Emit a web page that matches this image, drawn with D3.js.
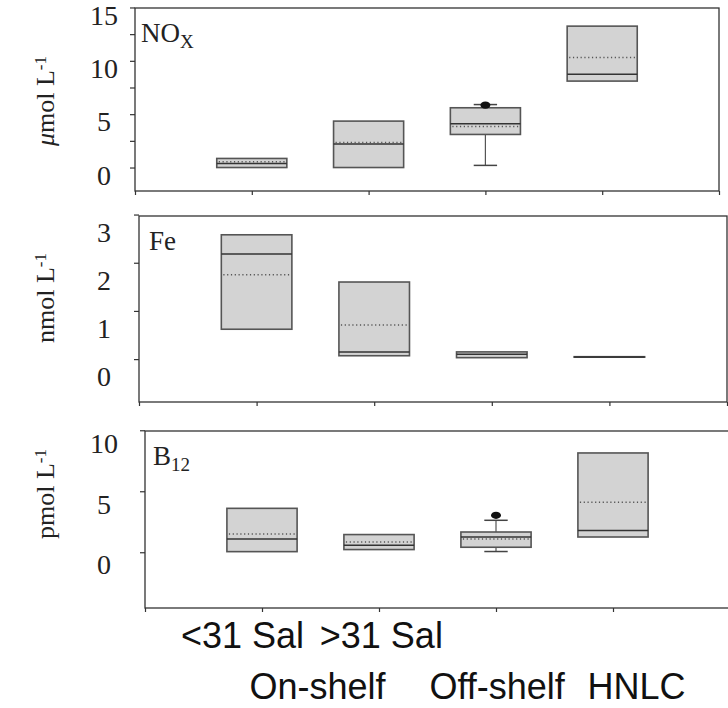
<!DOCTYPE html>
<html>
<head>
<meta charset="utf-8">
<script src="https://cdn.jsdelivr.net/npm/d3@7"></script>
<style>
  body { margin: 0; background: #fff; }
  svg { display: block; }
</style>
</head>
<body>
<div id="chart"></div>
<script>
// groups along x (positions 1..4)
var groups = [1, 2, 3, 4];
var row1Labels = ["<31 Sal", ">31 Sal"];
var row2Labels = ["On-shelf", "Off-shelf", "HNLC"];

// NOx (umol/L)
var noxQ1   = [0,    0,    3.1,  8.1];
var noxMed  = [0.38, 2.2,  4.1,  8.75];
var noxMean = [0.53, 2.35, 3.85, 10.3];
var noxQ3   = [0.85, 4.35, 5.6,  13.25];
var noxLo   = [null, null, 0.2,  null];
var noxHi   = [null, null, 5.9,  null];
var noxOut  = [null, null, 5.85, null];
var noxTicks  = [0, 2.5, 5, 7.5, 10, 12.5, 15];
var noxLabels = [0, 5, 10, 15];

// Fe (nmol/L)
var feQ1   = [0.62, 0.07, 0.03, 0.04];
var feMed  = [2.18, 0.15, 0.10, 0.045];
var feMean = [1.75, 0.71, null, null];
var feQ3   = [2.58, 1.60, 0.15, 0.05];
var feTicks  = [0, 1, 2, 3];
var feLabels = [0, 1, 2, 3];

// B12 (pmol/L)
var b12Q1   = [0.05, 0.22, 0.41, 1.25];
var b12Med  = [1.09, 0.57, 1.25, 1.78];
var b12Mean = [1.5,  0.84, 1.09, 4.1];
var b12Q3   = [3.6,  1.45, 1.66, 8.14];
var b12Lo   = [null, null, 0.06, null];
var b12Hi   = [null, null, 2.62, null];
var b12Out  = [null, null, 3.03, null];
var b12Ticks  = [0, 5, 10];
var b12Labels = [0, 5, 10];

var w = 728, h = 708;
var svg = d3.select("#chart").append("svg")
    .attr("width", w)
    .attr("height", h);

var serif = "'Liberation Serif', 'Times New Roman', serif";

function panel(p) {
    var x = d3.scaleLinear().domain([0, 5]).range([p.left, p.right]);
    var y = d3.scaleLinear().domain(p.ydom).range([p.bottom, p.top]);
    var g = svg.append("g");

    // frame
    g.append("rect")
        .attr("x", p.left).attr("y", p.top)
        .attr("width", p.right - p.left).attr("height", p.bottom - p.top)
        .attr("fill", "none").attr("stroke", "#333").attr("stroke-width", 1.3);

    // left ticks
    var ya = d3.axisLeft(y).tickValues(p.ticks).tickSize(5).tickSizeOuter(0).tickFormat("");
    var gy = g.append("g").attr("transform", "translate(" + p.left + ",0)").call(ya);
    gy.select(".domain").remove();
    gy.selectAll("line").attr("stroke", "#333").attr("stroke-width", 1.2);

    // bottom ticks
    var xa = d3.axisBottom(x).tickValues([0, 1, 2, 3, 4, 5]).tickSize(4).tickSizeOuter(0).tickFormat("");
    var gx = g.append("g").attr("transform", "translate(0," + p.bottom + ")").call(xa);
    gx.select(".domain").remove();
    gx.selectAll("line").attr("stroke", "#333").attr("stroke-width", 1.2);

    // tick labels (they sit a bit below their ticks in the original)
    g.selectAll(".ylab").data(p.labels).enter().append("text")
        .attr("x", 104)
        .attr("y", function(d) { return y(d) + p.labShift; })
        .attr("dy", "0.33em")
        .attr("text-anchor", "middle")
        .style("font-family", serif).style("font-size", "28px").attr("fill", "#222")
        .text(function(d) { return d; });

    // axis title
    var t = g.append("text")
        .attr("transform", "translate(" + p.titleX + "," + p.titleY + ") rotate(-90)")
        .attr("text-anchor", "middle")
        .style("font-family", serif).style("font-size", "26px").attr("fill", "#222");
    if (p.unit == "μ") {
        t.append("tspan").style("font-style", "italic").text("μ");
        t.append("tspan").text("mol L");
    } else {
        t.append("tspan").text(p.unit + "mol L");
    }
    t.append("tspan").attr("dy", "-0.45em").style("font-size", "17px").text("-1");

    // panel label
    var nl = g.append("text")
        .attr("x", p.nameX).attr("y", p.nameY)
        .style("font-family", serif).style("font-size", "27px").attr("fill", "#222");
    nl.append("tspan").text(p.name);
    if (p.sub) nl.append("tspan").attr("dy", "0.3em").style("font-size", "19px").text(p.sub);

    var bw = 0.6, cw = 0.2;
    groups.forEach(function(c, i) {
        var x0 = x(c - bw / 2), x1 = x(c + bw / 2);
        // whisker
        if (p.lo[i] != null) {
            g.append("line").attr("x1", x(c)).attr("x2", x(c))
                .attr("y1", y(p.q1[i])).attr("y2", y(p.lo[i]))
                .attr("stroke", "#555").attr("stroke-width", 1.2);
            g.append("line").attr("x1", x(c - cw / 2)).attr("x2", x(c + cw / 2))
                .attr("y1", y(p.lo[i])).attr("y2", y(p.lo[i]))
                .attr("stroke", "#444").attr("stroke-width", 1.5);
        }
        if (p.hi[i] != null) {
            g.append("line").attr("x1", x(c)).attr("x2", x(c))
                .attr("y1", y(p.q3[i])).attr("y2", y(p.hi[i]))
                .attr("stroke", "#555").attr("stroke-width", 1.2);
            g.append("line").attr("x1", x(c - cw / 2)).attr("x2", x(c + cw / 2))
                .attr("y1", y(p.hi[i])).attr("y2", y(p.hi[i]))
                .attr("stroke", "#444").attr("stroke-width", 1.5);
        }
        // box
        g.append("rect")
            .attr("x", x0).attr("y", y(p.q3[i]))
            .attr("width", x1 - x0).attr("height", Math.max(0.5, y(p.q1[i]) - y(p.q3[i])))
            .attr("fill", "#d3d3d3").attr("stroke", "#555").attr("stroke-width", 1.6);
        // median
        g.append("line").attr("x1", x0).attr("x2", x1)
            .attr("y1", y(p.med[i])).attr("y2", y(p.med[i]))
            .attr("stroke", "#333").attr("stroke-width", 1.5);
        // mean (dotted)
        if (p.mean[i] != null) {
            g.append("line").attr("x1", x0 + 2).attr("x2", x1 - 2)
                .attr("y1", y(p.mean[i])).attr("y2", y(p.mean[i]))
                .attr("stroke", "#555").attr("stroke-width", 1.5)
                .attr("stroke-dasharray", "1.2,2.6");
        }
        // outlier
        if (p.out && p.out[i] != null) {
            g.append("ellipse").attr("cx", x(c)).attr("cy", y(p.out[i]))
                .attr("rx", 5).attr("ry", 3.6).attr("fill", "#111");
        }
    });
    return x;
}

panel({
    left: 135, right: 719, top: 8, bottom: 191,
    ydom: [-2.2, 14.95],
    ticks: noxTicks, labels: noxLabels, labShift: 8,
    unit: "μ", titleX: 54, titleY: 101,
    name: "NO", sub: "X", nameX: 141, nameY: 42,
    q1: noxQ1, med: noxMed, mean: noxMean, q3: noxQ3,
    lo: noxLo, hi: noxHi, out: noxOut
});

panel({
    left: 139, right: 727, top: 216, bottom: 402,
    ydom: [-0.89, 2.97],
    ticks: feTicks, labels: feLabels, labShift: 18,
    unit: "n", titleX: 54, titleY: 298,
    name: "Fe", nameX: 149, nameY: 250,
    q1: feQ1, med: feMed, mean: feMean, q3: feQ3,
    lo: [null, null, null, null], hi: [null, null, null, null], out: null
});

var x3 = panel({
    left: 145, right: 730, top: 431, bottom: 608,
    ydom: [-4.57, 9.94],
    ticks: b12Ticks, labels: b12Labels, labShift: 13,
    unit: "p", titleX: 54, titleY: 494,
    name: "B", sub: "12", nameX: 153, nameY: 465,
    q1: b12Q1, med: b12Med, mean: b12Mean, q3: b12Q3,
    lo: b12Lo, hi: b12Hi, out: b12Out
});

// category labels under the bottom panel
var sans = "'Liberation Sans', Arial, sans-serif";
var row1X = [0.833, 2.02];
var row2X = [1.474, 3.01, 4.2];
svg.selectAll(".r1").data(row1Labels).enter().append("text")
    .attr("x", function(d, i) { return x3(row1X[i]); })
    .attr("y", 648)
    .attr("text-anchor", "middle")
    .style("font-family", sans).style("font-size", "36px").attr("fill", "#111")
    .text(function(d) { return d; });
svg.selectAll(".r2").data(row2Labels).enter().append("text")
    .attr("x", function(d, i) { return x3(row2X[i]); })
    .attr("y", 699)
    .attr("text-anchor", "middle")
    .style("font-family", sans).style("font-size", "36px").attr("fill", "#111")
    .text(function(d) { return d; });
</script>
</body>
</html>
